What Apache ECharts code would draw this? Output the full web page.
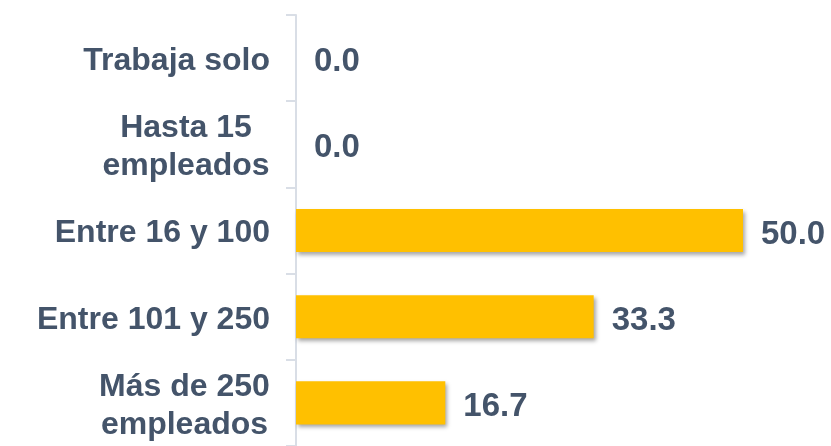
<!DOCTYPE html>
<html>
<head>
<meta charset="utf-8">
<script src="https://cdn.jsdelivr.net/npm/echarts@6/dist/echarts.min.js"></script>
<style>
  html, body { margin: 0; padding: 0; background: #fff; }
  #main { width: 831px; height: 446px; }
</style>
</head>
<body>
<div id="main"></div>
<script>
var categories = ['Trabaja solo', 'Hasta 15\nempleados', 'Entre 16 y 100', 'Entre 101 y 250', 'Más de 250\nempleados'];
var values = [0.0, 0.0, 50.0, 33.3, 16.7];

var barColor = '#FFC000';
var textColor = '#44546A';
var axisColor = '#D9DEE6';
var labelFont = 'bold 32px "Liberation Sans"';

// two-line labels are centred as a block, so give each one a box as wide as its longest line
var ctx = document.createElement('canvas').getContext('2d');
ctx.font = labelFont;
var rich = {};
categories.forEach(function (c, i) {
  var w = Math.max.apply(null, c.split('\n').map(function (s) { return ctx.measureText(s).width; }));
  rich['c' + i] = { width: Math.ceil(w), align: 'center' };
});

var myChart = echarts.init(document.getElementById('main'));

var option = {
  animation: false,
  grid: {
    left: 296,
    right: 88,
    top: 15,
    height: 436
  },
  xAxis: {
    type: 'value',
    min: 0,
    max: 50,
    show: false
  },
  yAxis: {
    type: 'category',
    inverse: true,
    data: categories,
    axisLine: { show: true, lineStyle: { color: axisColor, width: 2 } },
    axisTick: { show: true, length: 10, lineStyle: { color: axisColor, width: 2 } },
    axisLabel: {
      margin: 26,
      color: textColor,
      fontFamily: 'Liberation Sans',
      fontWeight: 'bold',
      fontSize: 32,
      lineHeight: 38,
      align: 'right',
      padding: [6, 0, 0, 0],
      rich: rich,
      formatter: function (v, i) {
        if (v.indexOf('\n') < 0) return v;
        return v.split('\n').map(function (s) { return '{c' + i + '|' + s + '}'; }).join('\n');
      }
    },
    splitLine: { show: false }
  },
  series: [
    {
      type: 'bar',
      data: values,
      barWidth: '50%',
      itemStyle: {
        color: barColor,
        shadowColor: 'rgba(0,0,0,0.35)',
        shadowBlur: 4,
        shadowOffsetX: 2,
        shadowOffsetY: 3
      },
      label: {
        show: true,
        position: 'right',
        distance: 18,
        offset: [0, 4],
        color: textColor,
        fontFamily: 'Liberation Sans',
        fontWeight: 'bold',
        fontSize: 33,
        formatter: function (p) { return p.value.toFixed(1); }
      }
    }
  ]
};

myChart.setOption(option);
</script>
</body>
</html>
